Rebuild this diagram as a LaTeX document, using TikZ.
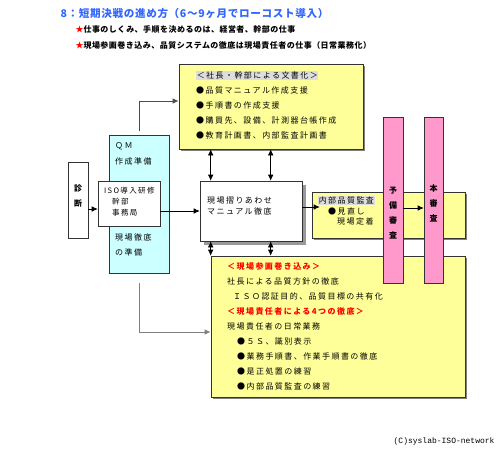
\documentclass[tikz,border=0pt]{standalone}
\usepackage{fontspec}
\setmainfont{Noto Sans CJK JP}
\newfontfamily\jp[LetterSpace=18]{Noto Sans CJK JP}
\newfontfamily\jpt[LetterSpace=6]{Noto Sans CJK JP}
\newfontfamily\cpfont{Liberation Mono}
\usetikzlibrary{arrows.meta,shadows}
\definecolor{boxyellow}{HTML}{FFFF99}
\definecolor{boxcyan}{HTML}{CCFFFF}
\definecolor{barpink}{HTML}{FF99CC}
\definecolor{titleblue}{HTML}{3366FF}
\definecolor{hlgray}{HTML}{DDDDDD}
\newcommand{\hlbox}[1]{{\setlength{\fboxsep}{0.6pt}\colorbox{hlgray}{#1}}}
\begin{document}
\begin{tikzpicture}[x=1pt, y=-1pt, >={Latex[length=6pt,width=5.5pt]},
        ybox/.style={draw=black!80, line width=0.6pt, inner sep=0pt, fill=boxyellow,
          drop shadow={shadow xshift=2pt, shadow yshift=-2pt, fill=gray, opacity=1}},
        wbox/.style={draw=black!80, line width=0.6pt, inner sep=0pt, fill=white},
        cbox/.style={draw=black!80, line width=0.6pt, inner sep=0pt, fill=boxcyan},
        pbar/.style={draw=black!80, line width=0.6pt, inner sep=0pt, fill=barpink,
          drop shadow={shadow xshift=1pt, shadow yshift=-1pt, fill=gray, opacity=1}},
        txt/.style={inner sep=0pt, align=left, anchor=north west},
        arr/.style={->, black, line width=0.6pt},
        darr/.style={<->, black, line width=0.6pt},
        gline/.style={->, line width=1pt}]
        \useasboundingbox (0,0) rectangle (500,450);
        % ---- 見出し ----
        \node[anchor=west, font=\jpt\bfseries\fontsize{10.6}{12}\selectfont, text=titleblue] (title) at (57,13)
          {8：短期決戦の進め方（6～9ヶ月でローコスト導入）};
        \node[anchor=west, font=\jpt\bfseries\fontsize{8}{10}\selectfont] (aim1) at (72,29)
          {\textcolor{red}{★}仕事のしくみ、手順を決めるのは、経営者、幹部の仕事};
        \node[anchor=west, font=\jpt\bfseries\fontsize{8}{10}\selectfont] (aim2) at (72,45)
          {\textcolor{red}{★}現場参画巻き込み、品質システムの徹底は現場責任者の仕事（日常業務化）};
        % ---- 左側：診断・QM・研修 ----
        \node[wbox, minimum width=20pt, minimum height=76pt] (diag) at (78,200) {};
        \node[cbox, minimum width=60pt, minimum height=138pt] (qm) at (139,204) {};
        \node[wbox, minimum width=62pt, minimum height=45pt] (iso) at (129,203.5) {};
        % ---- 中央：文書化・摺りあわせ・日常業務 ----
        \node[ybox, minimum width=184pt, minimum height=85pt] (manual) at (271,106.5) {};
        \node[wbox, minimum width=102pt, minimum height=60pt,
          drop shadow={shadow xshift=4pt, shadow yshift=-4pt, fill=gray!80, opacity=1}] (field) at (251,211) {};
        \node[ybox, minimum width=254pt, minimum height=141pt] (daily) at (338,326.5) {};
        \node[ybox, minimum width=153pt, minimum height=46pt] (audit) at (388.5,215) {};
        % ---- 接続 ----
        \draw[arr] ([yshift=-9pt]diag.east) -- ([yshift=-9pt]diag.east -| iso.west);
        \draw[arr] (iso.east |- field.west) -- (field.west);
        \draw[gline, black!70] ([yshift=4pt]qm.north) |- ([yshift=5.5pt]manual.west);
        \draw[gline, gray] ([yshift=-10pt]qm.south) |- ([yshift=-5.5pt]daily.west);
        \foreach \dx in {11,71} {
          \draw[darr] ([xshift=\dx pt]field.north west) -- ([xshift=\dx pt]field.north west |- manual.south);
          \draw[darr] ([xshift=\dx pt]field.south west) -- ([xshift=\dx pt]field.south west |- daily.north);
        }
        \draw[arr] ([yshift=4pt]field.east) -- ([yshift=4pt,xshift=8pt]field.east -| audit.west);
        % ---- 審査 ----
        \node[pbar, minimum width=20pt, minimum height=166pt] (pre) at (393,200) {};
        \node[pbar, minimum width=19pt, minimum height=166pt] (main) at (433.5,200) {};
        \draw[arr] ([yshift=-8pt]pre.east) -- ([yshift=-8pt]pre.east -| main.west);
        % ---- 文字 ----
        \node[font=\bfseries\fontsize{8}{15}\selectfont, align=center] (diagtxt) at (78,196) {診\\断};
        \node[txt, font=\jp\fontsize{8}{16}\selectfont] (qmtop) at (115,142) {ＱＭ\\作成準備};
        \node[txt, font=\jp\fontsize{8}{15}\selectfont] (qmbot) at (115,234) {現場徹底\\の準備};
        \node[txt, font=\jp\fontsize{7.5}{11}\selectfont] (isotxt) at (104,187)
          {ISO導入研修\\\hspace*{8pt}幹部\\\hspace*{8pt}事務局};
        \node[txt, font=\jp\fontsize{8}{15}\selectfont] (mantxt) at (196,71)
          {\hlbox{＜社長・幹部による文書化＞}\\
           ●品質マニュアル作成支援\\
           ●手順書の作成支援\\
           ●購買先、設備、計測器台帳作成\\
           ●教育計画書、内部監査計画書};
        \node[txt, font=\jp\fontsize{8}{11}\selectfont] (fieldtxt) at (207,197)
          {現場摺りあわせ\\マニュアル徹底};
        \node[txt, font=\jp\fontsize{8}{10.5}\selectfont] (audittxt) at (318,196)
          {\hlbox{内部品質監査}\\\hspace*{10pt}●見直し\\\hspace*{19pt}現場定着};
        \node[txt, font=\jp\fontsize{8}{15}\selectfont] (dailytxt) at (227,262)
          {{\color{red}\bfseries ＜現場参画巻き込み＞}\\
           社長による品質方針の徹底\\
           \hspace*{6pt}ＩＳＯ認証目的、品質目標の共有化\\
           {\color{red}\bfseries ＜現場責任者による4つの徹底＞}\\
           現場責任者の日常業務\\
           \hspace*{10pt}●５Ｓ、識別表示\\
           \hspace*{10pt}●業務手順書、作業手順書の徹底\\
           \hspace*{10pt}●是正処置の練習\\
           \hspace*{10pt}●内部品質監査の練習};
        \node[font=\bfseries\fontsize{8}{15}\selectfont, align=center] (pretxt) at (393,213) {予\\備\\審\\査};
        \node[font=\bfseries\fontsize{8}{15}\selectfont, align=center] (maintxt) at (433.5,203) {本\\審\\査};
        \node[anchor=east, font=\cpfont\fontsize{8}{10}\selectfont] (copy) at (498,441) {(C)syslab-ISO-network};
    \end{tikzpicture}
\end{document}
